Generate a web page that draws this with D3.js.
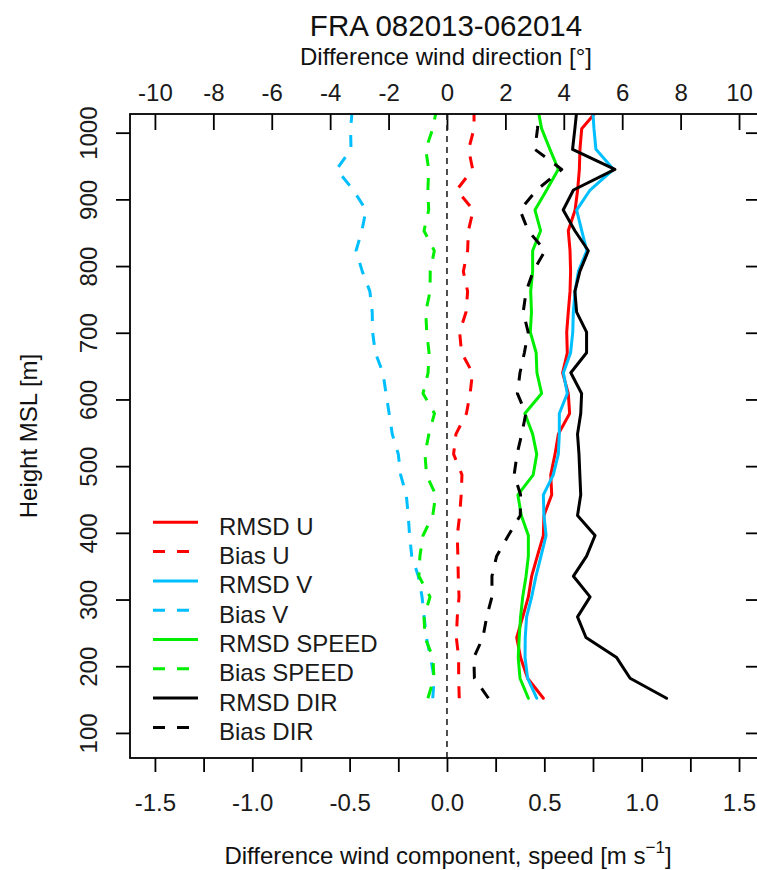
<!DOCTYPE html>
<html>
<head>
<meta charset="utf-8">
<script src="https://cdn.jsdelivr.net/npm/d3@7"></script>
<style>
  html, body { margin: 0; padding: 0; background: #fff; }
  svg { display: block; font-family: "Liberation Sans", Arial, sans-serif; }
</style>
</head>
<body>
<svg id="chart" width="757" height="870"></svg>
<script>
// ---------------- data ----------------
const title = "FRA 082013-062014";
const topAxisTitle = "Difference wind direction [°]";
const leftAxisTitle = "Height MSL [m]";
const bottomAxisTitleMain = "Difference wind component, speed [m s";

const heights = [152, 182, 213, 243, 274, 304, 335, 365, 396, 426,
                 457, 487, 518, 548, 579, 609, 640, 670, 701, 731,
                 762, 792, 823, 853, 884, 914, 945, 975, 1006, 1036];

const rmsdU = [0.495, 0.414, 0.378, 0.358, 0.389, 0.418, 0.435, 0.464, 0.495, 0.498,
               0.538, 0.533, 0.555, 0.572, 0.630, 0.623, 0.594, 0.618, 0.615, 0.623,
               0.632, 0.635, 0.632, 0.623, 0.658, 0.671, 0.680, 0.683, 0.692, 0.780];
const biasU = [0.063, 0.060, 0.060, 0.048, 0.053, 0.062, 0.058, 0.056, 0.053, 0.065,
               0.073, 0.077, 0.034, 0.046, 0.100, 0.119, 0.131, 0.075, 0.065, 0.098,
               0.106, 0.084, 0.106, 0.110, 0.135, 0.050, 0.132, 0.111, 0.139, 0.139];
const rmsdV = [0.461, 0.414, 0.401, 0.402, 0.409, 0.435, 0.457, 0.483, 0.509, 0.498,
               0.495, 0.546, 0.572, 0.577, 0.577, 0.618, 0.598, 0.635, 0.646, 0.649,
               0.658, 0.675, 0.718, 0.692, 0.666, 0.735, 0.855, 0.765, 0.755, 0.748];
const biasV = [-0.073, -0.066, -0.084, -0.106, -0.117, -0.128, -0.147, -0.181, -0.192, -0.199,
               -0.209, -0.238, -0.250, -0.281, -0.297, -0.313, -0.329, -0.368, -0.382, -0.384,
               -0.396, -0.435, -0.467, -0.437, -0.416, -0.481, -0.567, -0.493, -0.495, -0.486];
const rmsdSpeed = [0.418, 0.375, 0.366, 0.371, 0.378, 0.389, 0.406, 0.418, 0.418, 0.382,
                   0.364, 0.443, 0.461, 0.440, 0.400, 0.486, 0.462, 0.458, 0.428, 0.434,
                   0.430, 0.440, 0.440, 0.481, 0.452, 0.512, 0.572, 0.529, 0.486, 0.467];
const biasSpeed = [-0.098, -0.067, -0.072, -0.113, -0.118, -0.087, -0.144, -0.139, -0.123, -0.073,
                   -0.058, -0.105, -0.113, -0.093, -0.064, -0.123, -0.097, -0.092, -0.104, -0.109,
                   -0.087, -0.086, -0.065, -0.118, -0.094, -0.098, -0.094, -0.109, -0.073, -0.053];
// wind direction differences, degrees (top axis)
const rmsdDir = [7.52, 6.27, 5.81, 4.76, 4.47, 4.90, 4.33, 4.78, 5.07, 4.47,
                 4.58, 4.55, 4.52, 4.47, 4.58, 4.61, 4.24, 4.78, 4.78, 4.44,
                 4.38, 4.55, 4.84, 4.38, 3.98, 4.33, 5.75, 4.30, 4.38, 4.45];
const biasDir = [1.42, 0.94, 0.92, 1.23, 1.36, 1.54, 1.54, 1.70, 2.10, 2.51,
                 2.52, 2.30, 2.40, 2.56, 2.70, 2.41, 2.50, 2.65, 2.78, 2.61,
                 2.71, 2.95, 3.36, 2.78, 2.50, 3.07, 3.93, 3.01, 3.10, 3.15];

const seriesNames = ["RMSD U", "Bias U", "RMSD V", "Bias V", "RMSD SPEED", "Bias SPEED", "RMSD DIR", "Bias DIR"];
const seriesValues = [rmsdU, biasU, rmsdV, biasV, rmsdSpeed, biasSpeed, rmsdDir, biasDir];
const seriesIsDir = [false, false, false, false, false, false, true, true];
const seriesColors = ["#ff0000", "#ff0000", "#00bfff", "#00bfff", "#00ee00", "#00ee00", "#000000", "#000000"];
const seriesDashed = [false, true, false, true, false, true, false, true];

const speedTicks = [-1.5, -1.25, -1, -0.75, -0.5, -0.25, 0, 0.25, 0.5, 0.75, 1, 1.25, 1.5];
const speedTickLabels = ["-1.5", "", "-1.0", "", "-0.5", "", "0.0", "", "0.5", "", "1.0", "", "1.5"];
const dirTicks = [-10, -8, -6, -4, -2, 0, 2, 4, 6, 8, 10];
const heightTicks = [100, 200, 300, 400, 500, 600, 700, 800, 900, 1000];

// ---------------- layout ----------------
const box = { left: 130, right: 762, top: 114, bottom: 758 };
const FS = 24;

const svg = d3.select("#chart");

const x = d3.scaleLinear().domain([-1.628, 1.618]).range([box.left, box.right]);
const xDir = d3.scaleLinear().domain([-1.628 * 20 / 3, 1.618 * 20 / 3]).range([box.left, box.right]);
const y = d3.scaleLinear().domain([62.4, 1028]).range([box.bottom, box.top]);

svg.append("defs").append("clipPath").attr("id", "plotClip")
  .append("rect")
  .attr("x", box.left).attr("y", box.top)
  .attr("width", box.right - box.left).attr("height", box.bottom - box.top);

function styleAxis(g) {
  g.select(".domain").remove();
  g.selectAll(".tick line").attr("stroke", "#000").attr("stroke-width", 1.8);
  g.selectAll(".tick text").attr("fill", "#1a1a1a").style("font-size", FS + "px")
    .style("font-family", '"Liberation Sans", Arial, sans-serif');
}

// bottom axis
svg.append("g").attr("transform", `translate(0,${box.bottom})`)
  .call(d3.axisBottom(x).tickValues(speedTicks).tickSize(14).tickSizeOuter(0).tickPadding(22)
        .tickFormat((d, i) => speedTickLabels[i]))
  .call(styleAxis);

// top axis (ticks inward)
svg.append("g").attr("transform", `translate(0,${box.top})`)
  .call(d3.axisTop(xDir).tickValues(dirTicks).tickSize(-16).tickSizeOuter(0).tickPadding(13)
        .tickFormat(d => String(d)))
  .call(styleAxis);

// left axis
const gl = svg.append("g").attr("transform", `translate(${box.left},0)`)
  .call(d3.axisLeft(y).tickValues(heightTicks).tickSize(14).tickSizeOuter(0).tickFormat(d => String(d)))
  .call(styleAxis);
gl.selectAll(".tick text")
  .attr("x", null).attr("dy", null)
  .attr("text-anchor", "middle")
  .attr("transform", "translate(-33,0) rotate(-90)");

// right axis (ticks inward, no labels)
svg.append("g").attr("transform", `translate(${box.right},0)`)
  .call(d3.axisRight(y).tickValues(heightTicks).tickSize(-16).tickSizeOuter(0).tickFormat(""))
  .call(styleAxis);

// zero line
svg.append("line")
  .attr("x1", x(0)).attr("x2", x(0)).attr("y1", box.top).attr("y2", box.bottom)
  .attr("stroke", "#222").attr("stroke-width", 1.6).attr("stroke-dasharray", "6,5");

// series lines
const plot = svg.append("g").attr("clip-path", "url(#plotClip)");
seriesValues.forEach((vals, si) => {
  const sx = seriesIsDir[si] ? xDir : x;
  const line = d3.line().x(d => sx(d[0])).y(d => y(d[1]));
  const pts = vals.map((v, i) => [v, heights[i]]);
  plot.append("path")
    .datum(pts)
    .attr("d", line)
    .attr("fill", "none")
    .attr("stroke", seriesColors[si])
    .attr("stroke-width", 3)
    .attr("stroke-linejoin", "round")
    .attr("stroke-linecap", seriesDashed[si] ? "butt" : "round")
    .attr("stroke-dasharray", seriesDashed[si] ? "12,12" : null);
});

// plot box
svg.append("rect")
  .attr("x", box.left).attr("y", box.top)
  .attr("width", box.right - box.left).attr("height", box.bottom - box.top)
  .attr("fill", "none").attr("stroke", "#000").attr("stroke-width", 1.8);

// legend
const legendY0 = 522.3, legendDY = 29.3;
const lg = svg.append("g");
seriesNames.forEach((name, i) => {
  const ly = legendY0 + i * legendDY;
  lg.append("line")
    .attr("x1", 153).attr("x2", 198).attr("y1", ly).attr("y2", ly)
    .attr("stroke", seriesColors[i]).attr("stroke-width", 3)
    .attr("stroke-dasharray", seriesDashed[i] ? "12,12" : null);
  lg.append("text")
    .attr("x", 219).attr("y", ly + 12.5)
    .attr("fill", "#1a1a1a").style("font-size", FS + "px")
    .text(name);
});

// titles
const cx = (box.left + box.right) / 2;
svg.append("text").attr("x", cx).attr("y", 36).attr("text-anchor", "middle")
  .attr("fill", "#111").style("font-size", "29.5px").text(title);
svg.append("text").attr("x", cx).attr("y", 65).attr("text-anchor", "middle")
  .attr("fill", "#111").style("font-size", FS + "px").text(topAxisTitle);
svg.append("text").attr("transform", `translate(37,${(box.top + box.bottom) / 2}) rotate(-90)`)
  .attr("text-anchor", "middle").attr("fill", "#111").style("font-size", FS + "px").text(leftAxisTitle);

const bt = svg.append("text").attr("x", 448).attr("y", 864).attr("text-anchor", "middle")
  .attr("fill", "#111").style("font-size", FS + "px");
bt.append("tspan").text(bottomAxisTitleMain);
bt.append("tspan").attr("dy", -11).style("font-size", "17px").text("\u22121");
bt.append("tspan").attr("dy", 11).text("]");
</script>
</body>
</html>
